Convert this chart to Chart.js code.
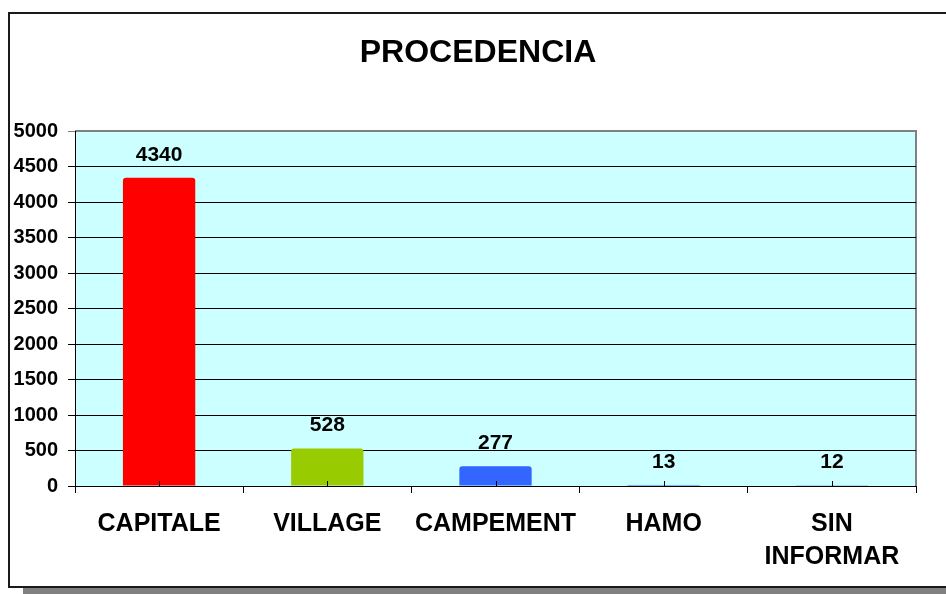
<!DOCTYPE html>
<html>
<head>
<meta charset="utf-8">
<script src="https://cdn.jsdelivr.net/npm/chart.js@4.4.1/dist/chart.umd.min.js"></script>
<style>
    html, body { margin: 0; padding: 0; background: #fff; overflow: hidden; }
    #wrap { position: relative; width: 946px; height: 594px; }
    #frame { position: absolute; left: 8px; top: 12px; width: 960px; height: 572px; border: 2px solid #1a1a1a; background: #fff; }
    #shadow { position: absolute; left: 23px; top: 588px; width: 960px; height: 10px; background: #808080; }
    #chart { position: absolute; left: 0; top: 0; }
</style>
</head>
<body>
<div id="wrap">
    <div id="shadow"></div>
    <div id="frame"></div>
    <canvas id="chart" width="946" height="594"></canvas>
</div>
<script>
const chartTitle = "PROCEDENCIA";
const categories = ["CAPITALE", "VILLAGE", "CAMPEMENT", "HAMO", ["SIN", "INFORMAR"]];
const values = [4340, 528, 277, 13, 12];
const barColors = ["#ff0000", "#99cc00", "#3366ff", "#3366ff", "#3366ff"];
const yMax = 5000;
const yStep = 500;

const FONT = "Arial, 'Liberation Sans', sans-serif";

const plotDecor = {
    id: "plotDecor",
    beforeDraw(chart) {
        const { ctx, chartArea: a } = chart;
        ctx.save();
        ctx.fillStyle = "#ccffff";
        ctx.fillRect(a.left, a.top, a.right - a.left, a.bottom - a.top);
        ctx.strokeStyle = "#808080";
        ctx.lineWidth = 2;
        ctx.beginPath();
        ctx.moveTo(a.left, a.top);
        ctx.lineTo(a.right, a.top);
        ctx.lineTo(a.right, a.bottom);
        ctx.stroke();

        // title, centred like the original (not over the chart area)
        ctx.fillStyle = "#000";
        ctx.font = "bold 32px " + FONT;
        ctx.textAlign = "center";
        ctx.textBaseline = "middle";
        ctx.fillText(chartTitle, 478, 53);
        ctx.restore();
    },
    afterDatasetsDraw(chart) {
        const { ctx, chartArea: a } = chart;
        const meta = chart.getDatasetMeta(0);
        ctx.save();
        ctx.fillStyle = "#000";
        ctx.strokeStyle = "#000";
        ctx.lineWidth = 1;
        ctx.font = "bold 21px " + FONT;
        ctx.textAlign = "center";
        ctx.textBaseline = "middle";
        meta.data.forEach((bar, i) => {
            ctx.fillText(String(values[i]), bar.x, bar.y - 23);
            ctx.beginPath();
            ctx.moveTo(Math.round(bar.x) + 0.5, a.bottom);
            ctx.lineTo(Math.round(bar.x) + 0.5, a.bottom - 5);
            ctx.stroke();
        });
        ctx.restore();
    },
};

new Chart(document.getElementById("chart").getContext("2d"), {
    type: "bar",
    data: {
        labels: categories,
        datasets: [
            {
                data: values,
                backgroundColor: barColors,
                borderRadius: 3,
                borderSkipped: "bottom",
                categoryPercentage: 1,
                barPercentage: 0.43,
            },
        ],
    },
    options: {
        responsive: false,
        animation: false,
        layout: { padding: { left: 0, right: 30, top: 131, bottom: 0 } },
        scales: {
            x: {
                grid: {
                    offset: true,
                    drawOnChartArea: false,
                    drawTicks: true,
                    tickLength: 7,
                    color: "#000",
                },
                border: { color: "#000", width: 1 },
                ticks: {
                    color: "#000",
                    padding: 15,
                    maxRotation: 0,
                    autoSkip: false,
                    font: { family: FONT, size: 25, weight: "bold", lineHeight: 1.32 },
                },
                afterFit(scale) { scale.height = 108; },
            },
            y: {
                min: 0,
                max: yMax,
                grid: {
                    color: (c) => (c.tick && c.tick.value === yMax ? "#808080" : "#000"),
                    tickLength: 7,
                    lineWidth: 1,
                },
                border: { color: "#000", width: 1 },
                ticks: {
                    stepSize: yStep,
                    color: "#000",
                    padding: 10,
                    font: { family: FONT, size: 20, weight: "bold" },
                    callback: (v) => String(v),
                },
                afterFit(scale) { scale.width = 75; },
            },
        },
        plugins: {
            legend: { display: false },
            tooltip: { enabled: false },
            title: { display: false },
        },
    },
    plugins: [plotDecor],
});
</script>
</body>
</html>
